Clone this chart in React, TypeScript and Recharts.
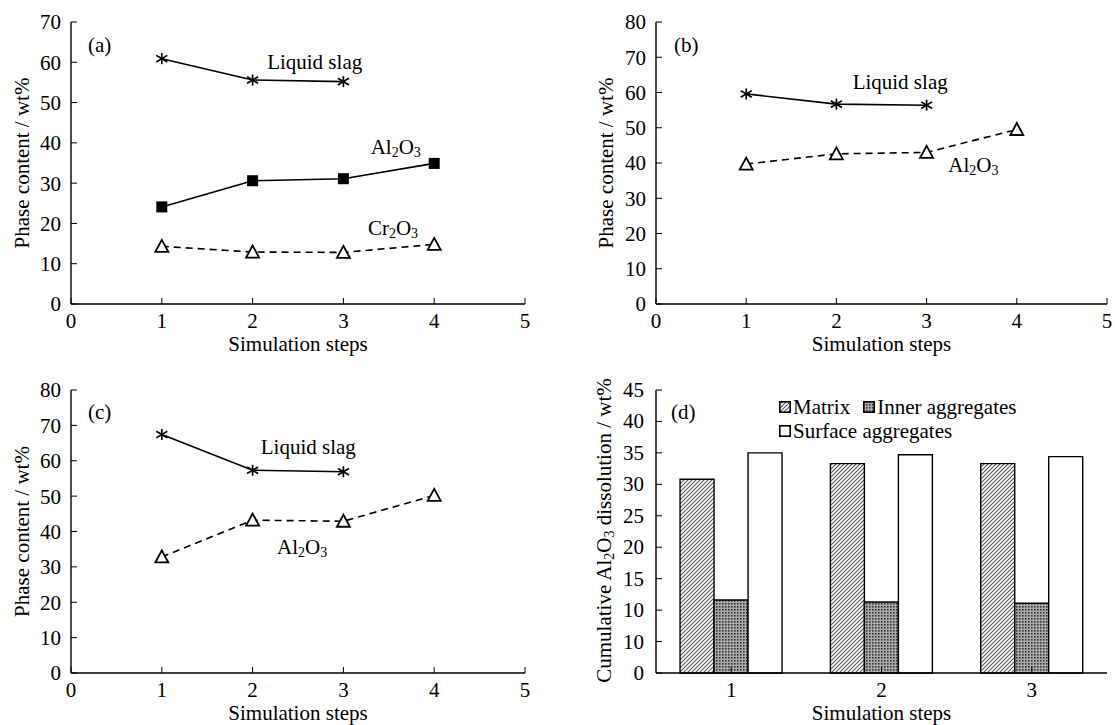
import React from 'react';
import { LineChart, Line, BarChart, Bar, XAxis, YAxis, ReferenceDot, Legend } from 'recharts';

const FONT = "'Liberation Serif', 'Times New Roman', Times, serif";
const FS = 21;

// panel (a)
const steps = [1, 2, 3, 4];
const slagA = [60.9, 55.6, 55.2, null];
const al2o3A = [24.1, 30.6, 31.1, 34.9];
const cr2o3A = [14.3, 12.9, 12.8, 14.8];
// panel (b)
const slagB = [59.6, 56.7, 56.4, null];
const al2o3B = [39.7, 42.6, 43.0, 49.5];
// panel (c)
const slagC = [67.4, 57.3, 56.9, null];
const al2o3C = [32.8, 43.2, 42.9, 50.2];
// panel (d)
const barSteps = ['1', '2', '3'];
const matrix = [30.8, 33.3, 33.3];
const inner = [11.6, 11.3, 11.1];
const surface = [35, 34.7, 34.4];

const xTicks = [0, 1, 2, 3, 4, 5];
const yTicks70 = [0, 10, 20, 30, 40, 50, 60, 70];
const yTicks80 = [0, 10, 20, 30, 40, 50, 60, 70, 80];
const yTicksD = [0, 5, 10, 15, 20, 25, 30, 35, 40, 45];
// the original figure prints "10" twice on this axis
const yTickLabelsD = ['0', '10', '10', '15', '20', '25', '30', '35', '40', '45'];

const rowsA = steps.map((s, i) => ({ step: s, slag: slagA[i], al: al2o3A[i], cr: cr2o3A[i] }));
const rowsB = steps.map((s, i) => ({ step: s, slag: slagB[i], al: al2o3B[i] }));
const rowsC = steps.map((s, i) => ({ step: s, slag: slagC[i], al: al2o3C[i] }));
const rowsD = barSteps.map((s, i) => ({ step: s, matrix: matrix[i], inner: inner[i], surface: surface[i] }));

const tickStyle = { fill: '#000', fontSize: FS, fontFamily: FONT };
const axisLineStyle = { stroke: '#000', strokeWidth: 1.4 };

function StarDot(p: any) {
  const { cx, cy, index } = p;
  if (cx == null || cy == null) return <g key={index} />;
  const r = 5.5;
  return (
    <g key={index} stroke="#000" strokeWidth={1.7}>
      <line x1={cx - r} y1={cy - r * 0.6} x2={cx + r} y2={cy + r * 0.6} />
      <line x1={cx - r} y1={cy + r * 0.6} x2={cx + r} y2={cy - r * 0.6} />
      <line x1={cx} y1={cy - r} x2={cx} y2={cy + r} />
    </g>
  );
}

function SquareDot(p: any) {
  const { cx, cy, index } = p;
  if (cx == null || cy == null) return <g key={index} />;
  return <rect key={index} x={cx - 5.5} y={cy - 5.5} width={11} height={11} fill="#000" />;
}

function TriDot(p: any) {
  const { cx, cy, index } = p;
  if (cx == null || cy == null) return <g key={index} />;
  return (
    <polygon
      key={index}
      points={`${cx},${cy - 6.5} ${cx - 6.5},${cy + 5.5} ${cx + 6.5},${cy + 5.5}`}
      fill="#fff"
      stroke="#000"
      strokeWidth={1.8}
    />
  );
}

const dots: any = { star: StarDot, square: SquareDot, tri: TriDot };

// y ticks of panel (d), labels taken from yTickLabelsD
function DTick(p: any) {
  const { x, y, payload } = p;
  const k = yTicksD.indexOf(Number(payload?.value));
  const label = k >= 0 ? yTickLabelsD[k] : String(payload?.value);
  return (
    <text x={x} y={y} textAnchor="end" dominantBaseline="central" fontSize={FS} fontFamily={FONT} fill="#000">
      {label}
    </text>
  );
}

function Formula({ x, y, a }: any) {
  return (
    <text x={x} y={y} fontSize={FS} fontFamily={FONT} fill="#000" dominantBaseline="central">
      <tspan>{a}</tspan>
      <tspan dy={5} fontSize={14}>2</tspan>
      <tspan dy={-5}>O</tspan>
      <tspan dy={5} fontSize={14}>3</tspan>
    </text>
  );
}

function Note(props: any) {
  const { cx, cy, text, chem } = props;
  if (chem) return <Formula x={cx} y={cy} a={chem} />;
  return (
    <text x={cx} y={cy} fontSize={FS} fontFamily={FONT} fill="#000" dominantBaseline="central">
      {text}
    </text>
  );
}

function XTitle({ viewBox }: any) {
  const vb = viewBox || { x: 0, y: 0, width: 0, height: 0 };
  return (
    <text x={vb.x + vb.width / 2} y={vb.y + 47} textAnchor="middle" fontSize={FS} fontFamily={FONT} fill="#000">
      Simulation steps
    </text>
  );
}

function YTitle({ viewBox, at, shift = 0, formula }: any) {
  const vb = viewBox || { x: 0, y: 0, width: 0, height: 0 };
  const x = vb.x + at;
  const y = vb.y + vb.height / 2 + shift;
  return (
    <text
      x={x}
      y={y}
      transform={`rotate(-90 ${x} ${y})`}
      textAnchor="middle"
      dominantBaseline="central"
      fontSize={FS}
      fontFamily={FONT}
      fill="#000"
    >
      {formula ? (
        <>
          <tspan>Cumulative Al</tspan>
          <tspan dy={5} fontSize={14}>2</tspan>
          <tspan dy={-5}>O</tspan>
          <tspan dy={5} fontSize={14}>3</tspan>
          <tspan dy={-5}> dissolution / wt%</tspan>
        </>
      ) : (
        'Phase content / wt%'
      )}
    </text>
  );
}

function PanelTag({ left, top, text }: any) {
  return (
    <div style={{ position: 'absolute', left, top, fontSize: FS, lineHeight: '22px', fontFamily: FONT }}>{text}</div>
  );
}

function LinePanel({ rows, yMax, yTicks, width, height, lines, notes, yAxisW, titleAt, margin }: any) {
  return (
    <LineChart width={width} height={height} data={rows} margin={margin}>
      <XAxis
        dataKey="step"
        type="number"
        domain={[0, 5]}
        ticks={xTicks}
        interval={0}
        height={50}
        tickSize={-6}
        tickMargin={15}
        stroke="#000"
        axisLine={axisLineStyle}
        tick={tickStyle}
        label={<XTitle />}
      />
      <YAxis
        type="number"
        domain={[0, yMax]}
        ticks={yTicks}
        interval={0}
        width={yAxisW}
        tickSize={-6}
        tickMargin={16}
        stroke="#000"
        axisLine={axisLineStyle}
        tick={tickStyle}
        label={<YTitle at={titleAt} />}
      />
      <XAxis xAxisId="top" orientation="top" type="number" domain={[0, 5]} height={0} tick={false} tickLine={false} axisLine={axisLineStyle} />
      <YAxis yAxisId="right" orientation="right" type="number" domain={[0, yMax]} width={0} tick={false} tickLine={false} axisLine={axisLineStyle} />
      {lines.map((s: any) => (
        <Line
          key={s.key}
          dataKey={s.key}
          type="linear"
          stroke="#000"
          strokeWidth={1.6}
          strokeDasharray={s.dash ? '7 5' : undefined}
          dot={dots[s.dot]}
          activeDot={false}
          isAnimationActive={false}
        />
      ))}
      {notes.map((n: any, i: number) => (
        <ReferenceDot key={i} x={n.x} y={n.y} r={0} shape={(p: any) => <Note cx={p.cx} cy={p.cy} text={n.text} chem={n.chem} />} />
      ))}
    </LineChart>
  );
}

function LegendD() {
  const sw = (fill: string) => (
    <svg width={12} height={12} style={{ marginRight: 2, verticalAlign: 'middle', position: 'relative', top: -2 }}>
      <rect x={0.8} y={0.8} width={10.4} height={10.4} fill={fill} stroke="#000" strokeWidth={1.6} />
    </svg>
  );
  return (
    <div style={{ fontFamily: FONT, fontSize: FS, lineHeight: '24px', color: '#000', whiteSpace: 'nowrap' }}>
      <div>
        {sw('url(#hatchMatrix)')}Matrix<span style={{ display: 'inline-block', width: 13 }} />
        {sw('url(#dotInner)')}Inner aggregates
      </div>
      <div>{sw('#fff')}Surface aggregates</div>
    </div>
  );
}

export default function App() {
  return (
    <div style={{ position: 'absolute', left: 0, top: 0, width: 1115, height: 725, overflow: 'hidden', background: '#fff', fontFamily: FONT }}>
      <div style={{ position: 'absolute', left: 0, top: 0 }}>
        <LinePanel
          rows={rowsA}
          yMax={70}
          yTicks={yTicks70}
          width={560}
          height={360}
          yAxisW={71}
          titleAt={22}
          margin={{ top: 22, right: 35, bottom: 6, left: 0 }}
          lines={[
            { key: 'slag', dot: 'star' },
            { key: 'al', dot: 'square' },
            { key: 'cr', dot: 'tri', dash: true },
          ]}
          notes={[
            { x: 2.16, y: 60, text: 'Liquid slag' },
            { x: 3.3, y: 39, chem: 'Al' },
            { x: 3.27, y: 18.8, chem: 'Cr' },
          ]}
        />
      </div>
      <div style={{ position: 'absolute', left: 560, top: 0 }}>
        <LinePanel
          rows={rowsB}
          yMax={80}
          yTicks={yTicks80}
          width={555}
          height={360}
          yAxisW={96}
          titleAt={46}
          margin={{ top: 22, right: 8, bottom: 6, left: 0 }}
          lines={[
            { key: 'slag', dot: 'star' },
            { key: 'al', dot: 'tri', dash: true },
          ]}
          notes={[
            { x: 2.18, y: 63, text: 'Liquid slag' },
            { x: 3.24, y: 39.5, chem: 'Al' },
          ]}
        />
      </div>
      <div style={{ position: 'absolute', left: 0, top: 360 }}>
        <LinePanel
          rows={rowsC}
          yMax={80}
          yTicks={yTicks80}
          width={560}
          height={365}
          yAxisW={71}
          titleAt={22}
          margin={{ top: 30, right: 35, bottom: 2, left: 0 }}
          lines={[
            { key: 'slag', dot: 'star' },
            { key: 'al', dot: 'tri', dash: true },
          ]}
          notes={[
            { x: 2.09, y: 63.8, text: 'Liquid slag' },
            { x: 2.27, y: 35.6, chem: 'Al' },
          ]}
        />
      </div>
      <div style={{ position: 'absolute', left: 560, top: 360 }}>
        <BarChart
          width={555}
          height={365}
          data={rowsD}
          margin={{ top: 30, right: 8, bottom: 2, left: 0 }}
          barGap={0}
          barCategoryGap="16%"
        >
          <defs>
            <pattern id="hatchMatrix" patternUnits="userSpaceOnUse" width={4} height={4}>
              <rect width={4} height={4} fill="#fff" />
              <path d="M-1,1 l2,-2 M0,4 l4,-4 M3,5 l2,-2" stroke="#555" strokeWidth={1.1} />
            </pattern>
            <pattern id="dotInner" patternUnits="userSpaceOnUse" width={3} height={3}>
              <rect width={3} height={3} fill="#aaa" />
              <rect width={1.6} height={1.6} fill="#333" />
            </pattern>
          </defs>
          <XAxis
            dataKey="step"
            height={50}
            tickSize={-6}
            tickMargin={15}
            stroke="#000"
            axisLine={axisLineStyle}
            tick={tickStyle}
            label={<XTitle />}
          />
          <YAxis
            type="number"
            domain={[0, 45]}
            ticks={yTicksD}
            interval={0}
            width={96}
            tickSize={-6}
            tickMargin={18}
            stroke="#000"
            axisLine={axisLineStyle}
            tick={<DTick />}
            label={<YTitle at={44} shift={-1} formula />}
          />
          <XAxis xAxisId="top" orientation="top" dataKey="step" height={0} tick={false} tickLine={false} axisLine={axisLineStyle} />
          <YAxis yAxisId="right" orientation="right" type="number" domain={[0, 45]} width={0} tick={false} tickLine={false} axisLine={axisLineStyle} />
          <Legend
            layout="horizontal"
            verticalAlign="middle"
            align="center"
            wrapperStyle={{ top: 35, left: 219, width: 270 }}
            content={() => <LegendD />}
          />
          <Bar dataKey="matrix" fill="url(#hatchMatrix)" stroke="#000" strokeWidth={1.4} isAnimationActive={false} />
          <Bar dataKey="inner" fill="url(#dotInner)" stroke="#000" strokeWidth={1.4} isAnimationActive={false} />
          <Bar dataKey="surface" fill="#fff" stroke="#000" strokeWidth={1.4} isAnimationActive={false} />
        </BarChart>
      </div>
      <PanelTag left={88} top={34} text="(a)" />
      <PanelTag left={674} top={34} text="(b)" />
      <PanelTag left={88} top={401} text="(c)" />
      <PanelTag left={671} top={401} text="(d)" />
    </div>
  );
}
